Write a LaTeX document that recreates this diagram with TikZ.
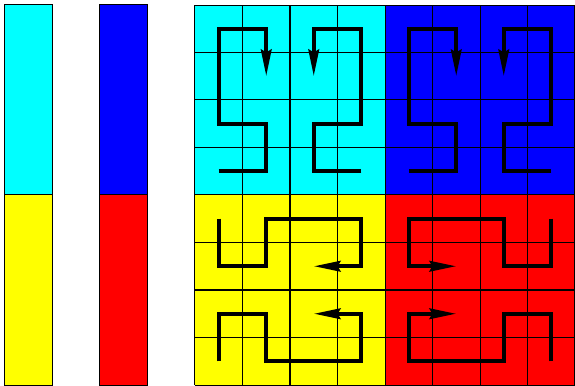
\documentclass[tikz,border=0pt]{standalone}
\usetikzlibrary{arrows.meta}
\definecolor{cyanfill}{rgb}{0,1,1}
\definecolor{bluefill}{rgb}{0,0,1}
\definecolor{yellowfill}{rgb}{1,1,0}
\definecolor{redfill}{rgb}{1,0,0}
\begin{document}
\begin{tikzpicture}[x=1cm,y=1cm,
    cell/.style={draw=black,line width=0.6pt},
    walk/.style={line width=2.4pt,-{Stealth[length=5.6mm,width=2.2mm,inset=0.6mm]}}]
  \useasboundingbox (-0.105,0) rectangle (12,8.105);
  % colour bars
  \draw[cell,fill=cyanfill] (0,4) rectangle (1,8);
  \draw[cell,fill=yellowfill] (0,0) rectangle (1,4);
  \draw[cell,fill=bluefill] (2,4) rectangle (3,8);
  \draw[cell,fill=redfill] (2,0) rectangle (3,4);
  % quadrants and grid
  \foreach \x/\y/\c in {4/4/cyanfill,8/4/bluefill,4/0/yellowfill,8/0/redfill}
    \fill[\c] (\x,\y) rectangle ++(4,4);
  \draw[cell] (4,0) grid (12,8);
  % cyan and blue
  \foreach \s in {0,4} {
    \begin{scope}[xshift=\s cm]
      \draw[walk] (4.5,4.5) -- (5.5,4.5) -- (5.5,5.5) -- (4.5,5.5) -- (4.5,7.5) -- (5.5,7.5) -- (5.5,6.5);
      \draw[walk] (7.5,4.5) -- (6.5,4.5) -- (6.5,5.5) -- (7.5,5.5) -- (7.5,7.5) -- (6.5,7.5) -- (6.5,6.5);
    \end{scope}
  }
  % yellow
  \draw[walk] (4.5,3.5) -- (4.5,2.5) -- (5.5,2.5) -- (5.5,3.5) -- (7.5,3.5) -- (7.5,2.5) -- (6.5,2.5);
  \draw[walk] (4.5,0.5) -- (4.5,1.5) -- (5.5,1.5) -- (5.5,0.5) -- (7.5,0.5) -- (7.5,1.5) -- (6.5,1.5);
  % red
  \draw[walk] (11.5,3.5) -- (11.5,2.5) -- (10.5,2.5) -- (10.5,3.5) -- (8.5,3.5) -- (8.5,2.5) -- (9.5,2.5);
  \draw[walk] (11.5,0.5) -- (11.5,1.5) -- (10.5,1.5) -- (10.5,0.5) -- (8.5,0.5) -- (8.5,1.5) -- (9.5,1.5);
\end{tikzpicture}
\end{document}
